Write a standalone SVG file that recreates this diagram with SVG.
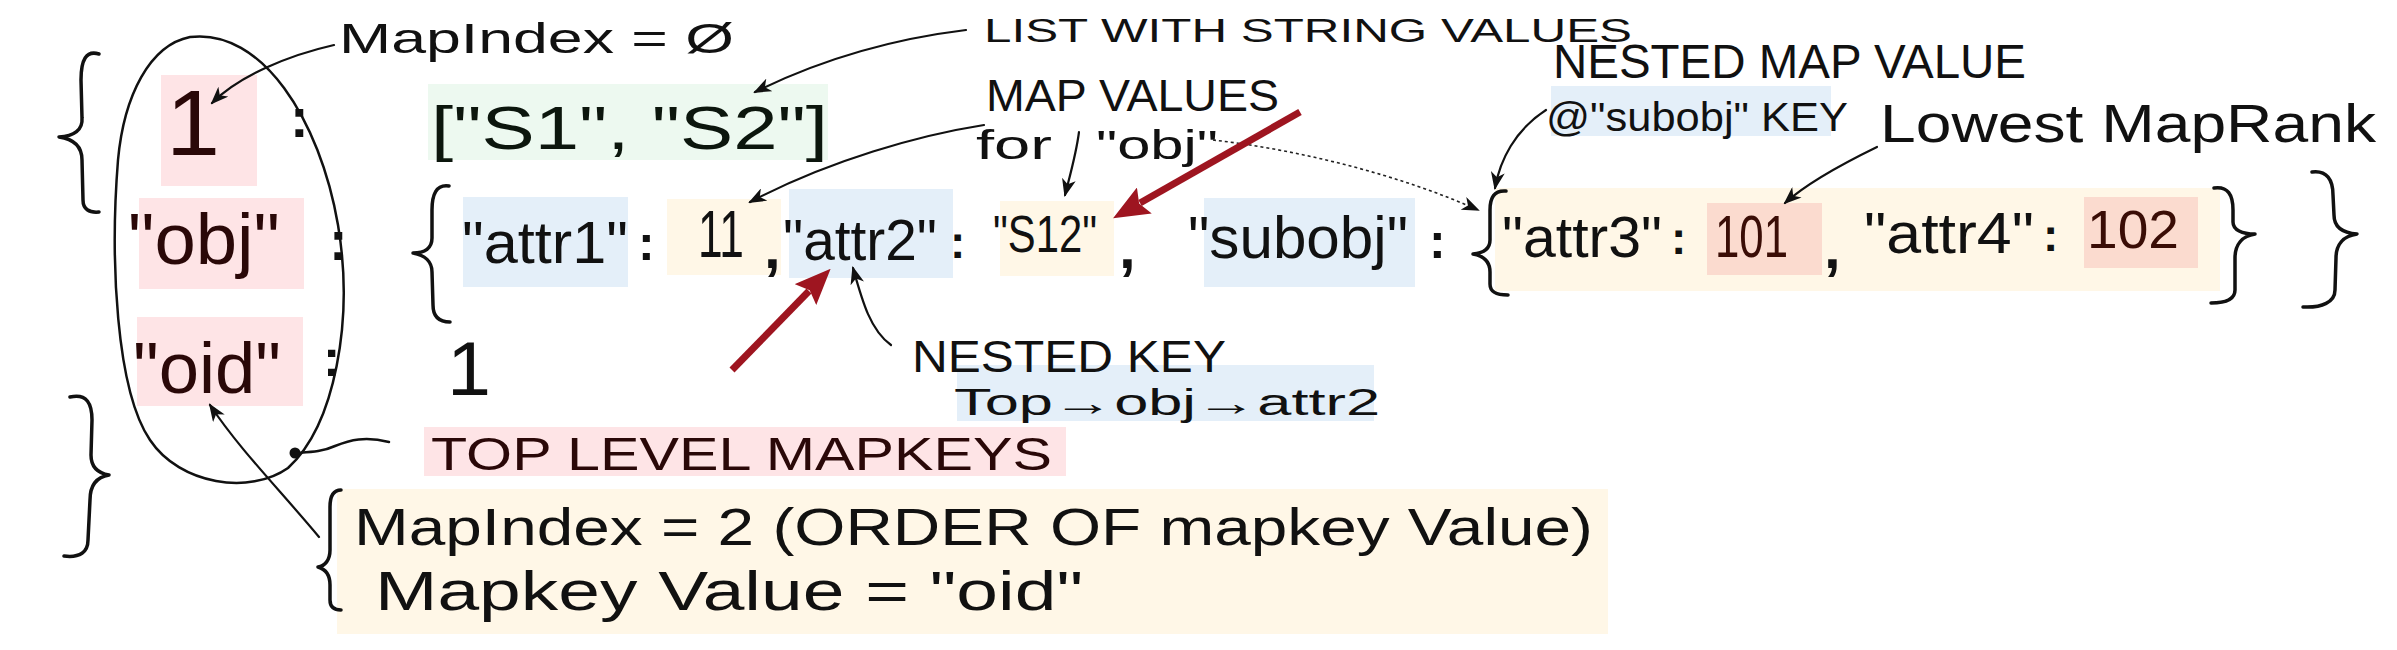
<svg xmlns="http://www.w3.org/2000/svg" width="2397" height="650" viewBox="0 0 2397 650">
<style>
  text { font-family: "Liberation Sans", "DejaVu Sans", sans-serif; fill: #111; }
  .key { fill: #2a0808; }
  .num { fill: #3a0d06; }
  .green { fill: #0c160d; }
  .col { font-weight: bold; }
  .pink { fill: #fee4e6; }
  .blue { fill: #e4eff9; }
  .yel { fill: #fff7e7; }
  .grn { fill: #edf9f0; }
  .org { fill: #fbdbcf; }
  .ink { fill: none; stroke: #111; stroke-width: 2.5; stroke-linecap: round; stroke-linejoin: round; }
  .brace { fill: none; stroke: #111; stroke-width: 3.5; stroke-linecap: round; stroke-linejoin: round; }
  .arrow { fill: none; stroke: #111; stroke-width: 2.2; stroke-linecap: round; marker-end: url(#blk); }
  .dots { fill: none; stroke: #222; stroke-width: 1.6; stroke-dasharray: 3 3; marker-end: url(#blk); }
  .red { fill: none; stroke: #9e1520; stroke-width: 7; stroke-linecap: butt; marker-end: url(#redhead); }
</style>
<defs>
  <marker id="blk" markerUnits="userSpaceOnUse" markerWidth="18" markerHeight="14" viewBox="0 0 18 14" refX="16" refY="7" orient="auto">
    <path d="M0,0 L18,7 L0,14 L5,7 z" fill="#111"/>
  </marker>
  <marker id="redhead" markerUnits="userSpaceOnUse" markerWidth="36" markerHeight="30" viewBox="0 0 36 30" refX="5" refY="15" orient="auto">
    <path d="M0,0 L36,15 L0,30 L6,15 z" fill="#9e1520"/>
  </marker>
</defs>

<rect width="2397" height="650" fill="#ffffff"/>

<!-- outer map braces -->
<g id="outer-braces">
  <path class="brace" d="M99 54 C86 50 81 60 81 80 L82 118 C83 130 74 136 59 137 C73 139 82 146 82 160 L83 200 C83 209 89 213 99 212"/>
  <path class="brace" d="M70 397 C87 393 92 404 92 420 L91 455 C91 467 97 473 109 475 C97 477 90 485 90 500 L88 540 C88 552 80 558 64 556"/>
  <path class="brace" d="M2312 172 C2327 170 2333 180 2333 195 L2334 215 C2334 227 2343 233 2357 234 C2343 236 2336 245 2336 258 L2335 290 C2335 302 2322 308 2303 307"/>
</g>

<!-- ellipse grouping the top level keys -->
<g id="top-level-ellipse">
  <path class="ink" d="M190 37 C262 28 320 120 338 225 C354 320 335 425 288 468 C250 495 180 485 150 440 C116 390 110 260 118 160 C124 95 150 45 190 37 Z"/>
  <circle cx="295" cy="453" r="5.5" fill="#111"/>
</g>

<!-- top level keys -->
<g id="key-1">
  <rect class="pink" x="161" y="75" width="96" height="111"/>
  <text class="key" x="166" y="155" font-size="92" textLength="54" lengthAdjust="spacingAndGlyphs">1</text>
  <text class="col" x="290" y="137" font-size="56">:</text>
</g>
<g id="key-obj">
  <rect class="pink" x="139" y="198" width="165" height="91"/>
  <text class="key" x="128" y="264" font-size="72" textLength="152" lengthAdjust="spacingAndGlyphs">"obj"</text>
  <text class="col" x="329" y="260" font-size="56">:</text>
</g>
<g id="key-oid">
  <rect class="pink" x="137" y="317" width="166" height="89"/>
  <text class="key" x="133" y="393" font-size="72" textLength="148" lengthAdjust="spacingAndGlyphs">"oid"</text>
  <text class="col" x="323" y="376" font-size="52">:</text>
</g>

<!-- values -->
<g id="value-list">
  <rect class="grn" x="428" y="84" width="400" height="76"/>
  <text class="green" x="431" y="149" font-size="62" textLength="397" lengthAdjust="spacingAndGlyphs">["S1", "S2"]</text>
</g>

<g id="value-obj-map">
  <path class="brace" d="M449 186 C436 184 432 195 432 210 L432 238 C432 248 425 253 413 253 C425 255 432 262 432 272 L433 305 C433 318 440 322 450 322"/>
  <rect class="blue" x="463" y="197" width="165" height="90"/>
  <text x="462" y="263" font-size="60" textLength="166" lengthAdjust="spacingAndGlyphs">"attr1"</text>
  <text class="col" x="638" y="260" font-size="50">:</text>
  <rect class="yel" x="667" y="199" width="114" height="76"/>
  <text x="698" y="257" font-size="66" textLength="46" lengthAdjust="spacingAndGlyphs">11</text>
  <text class="col" x="764" y="268" font-size="60">,</text>
  <rect class="blue" x="789" y="189" width="164" height="89"/>
  <text x="783" y="260" font-size="58" textLength="154" lengthAdjust="spacingAndGlyphs">"attr2"</text>
  <text class="col" x="950" y="258" font-size="46">:</text>
  <rect class="yel" x="1000" y="201" width="114" height="75"/>
  <text x="993" y="252" font-size="52" textLength="104" lengthAdjust="spacingAndGlyphs">"S12"</text>
  <text class="col" x="1119" y="268" font-size="60">,</text>
  <rect class="blue" x="1204" y="198" width="211" height="89"/>
  <text x="1188" y="258" font-size="60" textLength="220" lengthAdjust="spacingAndGlyphs">"subobj"</text>
  <text class="col" x="1429" y="258" font-size="50">:</text>
</g>

<g id="value-nested-map">
  <rect class="yel" x="1495" y="188" width="725" height="103"/>
  <path class="brace" d="M1506 191 C1494 190 1490 198 1490 210 L1490 240 C1490 249 1484 253 1473 254 C1484 256 1490 262 1490 272 L1490 284 C1490 292 1496 295 1508 295"/>
  <text x="1502" y="257" font-size="58" textLength="160" lengthAdjust="spacingAndGlyphs">"attr3"</text>
  <text class="col" x="1671" y="254" font-size="46">:</text>
  <rect class="org" x="1707" y="203" width="115" height="72"/>
  <text class="num" x="1715" y="257" font-size="60" textLength="73" lengthAdjust="spacingAndGlyphs">101</text>
  <text class="col" x="1824" y="268" font-size="60">,</text>
  <text x="1864" y="253" font-size="58" textLength="170" lengthAdjust="spacingAndGlyphs">"attr4"</text>
  <text class="col" x="2043" y="251" font-size="46">:</text>
  <rect class="org" x="2084" y="197" width="114" height="71"/>
  <text class="num" x="2087" y="248" font-size="54" textLength="92" lengthAdjust="spacingAndGlyphs">102</text>
  <path class="brace" d="M2214 188 C2228 186 2233 195 2233 210 L2233 222 C2233 230 2242 234 2255 234 C2242 236 2235 245 2235 258 L2235 290 C2235 300 2225 303 2211 303"/>
</g>

<g id="value-oid">
  <text x="447" y="395" font-size="76" textLength="44" lengthAdjust="spacingAndGlyphs">1</text>
</g>

<!-- annotations -->
<g id="label-mapindex0">
  <text x="339" y="53" font-size="43" textLength="395" lengthAdjust="spacingAndGlyphs">MapIndex = Ø</text>
</g>
<g id="label-list">
  <text x="984" y="42" font-size="34" textLength="648" lengthAdjust="spacingAndGlyphs">LIST WITH STRING VALUES</text>
</g>
<g id="label-map-values">
  <text x="986" y="111" font-size="44" textLength="293" lengthAdjust="spacingAndGlyphs">MAP VALUES</text>
  <text y="159" font-size="40"><tspan x="976" textLength="76" lengthAdjust="spacingAndGlyphs">for</tspan><tspan x="1096" textLength="122" lengthAdjust="spacingAndGlyphs">"obj"</tspan></text>
</g>
<g id="label-nested-map">
  <rect class="blue" x="1551" y="86" width="280" height="50"/>
  <text x="1553" y="78" font-size="48" textLength="473" lengthAdjust="spacingAndGlyphs">NESTED MAP VALUE</text>
  <text x="1546" y="131" font-size="40" textLength="302" lengthAdjust="spacingAndGlyphs">@"subobj" KEY</text>
</g>
<g id="label-lowest">
  <text x="1880" y="142" font-size="54" textLength="496" lengthAdjust="spacingAndGlyphs">Lowest MapRank</text>
</g>
<g id="label-nested-key">
  <rect class="blue" x="957" y="365" width="417" height="56"/>
  <text x="912" y="372" font-size="44" textLength="314" lengthAdjust="spacingAndGlyphs">NESTED KEY</text>
  <text x="954" y="415" font-size="36" textLength="426" lengthAdjust="spacingAndGlyphs">Top→obj→attr2</text>
</g>
<g id="label-top-level">
  <rect class="pink" x="424" y="427" width="642" height="49"/>
  <text class="key" x="431" y="470" font-size="46" textLength="621" lengthAdjust="spacingAndGlyphs">TOP LEVEL MAPKEYS</text>
</g>
<g id="label-mapindex2">
  <rect class="yel" x="337" y="489" width="1271" height="145"/>
  <path class="brace" d="M341 490 C333 490 330 497 330 507 L330 550 C330 560 325 566 318 567 C325 569 330 575 330 585 L330 600 C330 607 334 610 341 610"/>
  <text x="354" y="545" font-size="52" textLength="1239" lengthAdjust="spacingAndGlyphs">MapIndex = 2 (ORDER OF mapkey Value)</text>
  <text x="375" y="610" font-size="56" textLength="708" lengthAdjust="spacingAndGlyphs">Mapkey Value = "oid"</text>
</g>

<!-- connectors -->
<g id="connectors">
  <path class="arrow" d="M334 45 C290 55 240 75 212 103"/>
  <path class="arrow" d="M966 30 C900 38 830 55 755 92"/>
  <path class="arrow" d="M984 125 C920 135 830 160 750 202"/>
  <path class="arrow" d="M1079 132 C1076 155 1070 175 1065 195"/>
  <path class="dots" d="M1213 140 C1300 150 1400 175 1478 210"/>
  <path class="arrow" d="M1546 110 C1515 130 1500 160 1495 188"/>
  <path class="arrow" d="M1877 147 C1840 165 1805 185 1785 203"/>
  <path class="arrow" d="M891 345 C870 330 862 300 853 268"/>
  <path class="arrow" d="M319 537 C280 490 240 450 210 405"/>
  <path class="ink" d="M295 453 C310 452 322 452 335 446 C350 440 365 436 389 442"/>
  <path class="red" d="M1300 112 L1140 203"/>
  <path class="red" d="M732 370 L809 291"/>
</g>
</svg>
